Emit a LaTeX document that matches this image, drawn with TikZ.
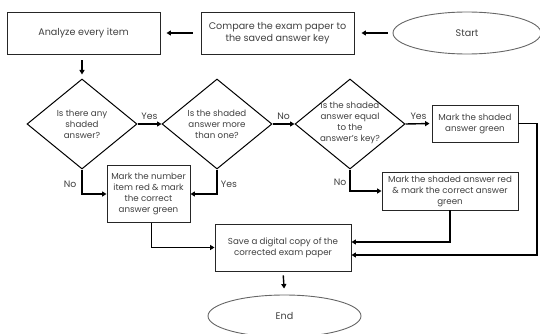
\documentclass[tikz,border=0pt]{standalone}
\usepackage{fontspec}
\setmainfont{Poppins}
\usetikzlibrary{shapes.geometric,arrows.meta,calc}
\begin{document}
\begin{tikzpicture}[x=1pt,y=-1pt,
  txt/.style={font=\fontsize{8.7}{11}\selectfont, text=black!75, align=center},
  bigtxt/.style={font=\fontsize{9.6}{12}\selectfont},
  boxn/.style={draw=black!85, line width=0.9pt, rectangle, inner sep=0pt, txt},
  termn/.style={draw=black!60, line width=0.9pt, ellipse, inner sep=0pt, txt},
  decn/.style={draw=black, line width=1pt, diamond, inner sep=0pt, minimum width=110pt, minimum height=90pt},
  conn/.style={line width=1.4pt, -{Triangle[length=4.5pt,width=5pt]}},
  lbl/.style={font=\fontsize{9.3}{10}\selectfont, text=black!75}
]
\useasboundingbox (0,0) rectangle (540,334);
% boxes
\node[boxn, bigtxt, minimum width=153pt, minimum height=42pt] (analyze) at (83.5,33) {Analyze every item};
\node[boxn, bigtxt, minimum width=153pt, minimum height=42pt] (compare) at (277.5,33) {Compare the exam paper to\\the saved answer key};
\node[termn, bigtxt, minimum width=148pt, minimum height=42pt] (start) at (467,33) {Start};
\node[decn] (d1) at (82,124) {};
\node[txt] (t1) at (d1) {Is there any\\shaded\\answer?};
\node[decn] (d2) at (217,124) {};
\node[txt] (t2) at (d2) {Is the shaded\\answer more\\than one?};
\node[decn] (d3) at (350,124) {};
\node[txt] (t3) at (350,122.5) {Is the shaded\\answer equal\\to the\\answer's key?};
\node[boxn, minimum width=86pt, minimum height=37pt] (green) at (475,123.5) {Mark the shaded\\answer green};
\node[boxn, minimum width=83pt, minimum height=57pt] (numred) at (148.5,194) {Mark the number\\item red \& mark\\the correct\\answer green};
\node[boxn, minimum width=136pt, minimum height=38pt] (redbox) at (450,191) {Mark the shaded answer red\\\& mark the correct answer\\green};
\node[boxn, minimum width=136pt, minimum height=47pt] (save) at (283,247.5) {Save a digital copy of the\\corrected exam paper};
\node[termn, bigtxt, minimum width=153pt, minimum height=42pt] (end) at (284.5,316) {End};
% connectors
\draw[conn, shorten <=5pt, shorten >=7pt] (start) -- (compare);
\draw[conn, shorten <=8pt, shorten >=6pt] (compare) -- (analyze);
\draw[conn, shorten <=6pt, shorten >=4pt] (analyze.south -| d1) -- (d1.north);
\draw[conn] (d1.east) -- node[lbl, above=0pt] (y1) {Yes} (d2.west);
\draw[conn] (d2.east) -- node[lbl, above=0pt] (n1) {No} (d3.west);
\draw[conn, shorten >=2pt] (d3.east) -- node[lbl, above=0pt] (y2) {Yes} (green.west);
\draw[conn] (d1.south) |- (numred.west);
\node[lbl] (n2) at (70,184) {No};
\draw[conn] (d2.south) |- (numred.east);
\node[lbl] (y3) at (229,184) {Yes};
\draw[conn] (d3.south) |- (redbox.west);
\node[lbl] (n3) at (340,182) {No};
\coordinate (rc) at (537,255);
\draw[conn] (green.east) -| (rc) -- (save.east |- rc);
\draw[conn] (redbox.south) |- ([yshift=5.5pt]save.east);
\draw[conn] ([xshift=3pt]numred.south) |- (save.west);
\draw[conn, shorten <=4pt, shorten >=6pt] (save.south) -- (end.north);
\end{tikzpicture}
\end{document}
